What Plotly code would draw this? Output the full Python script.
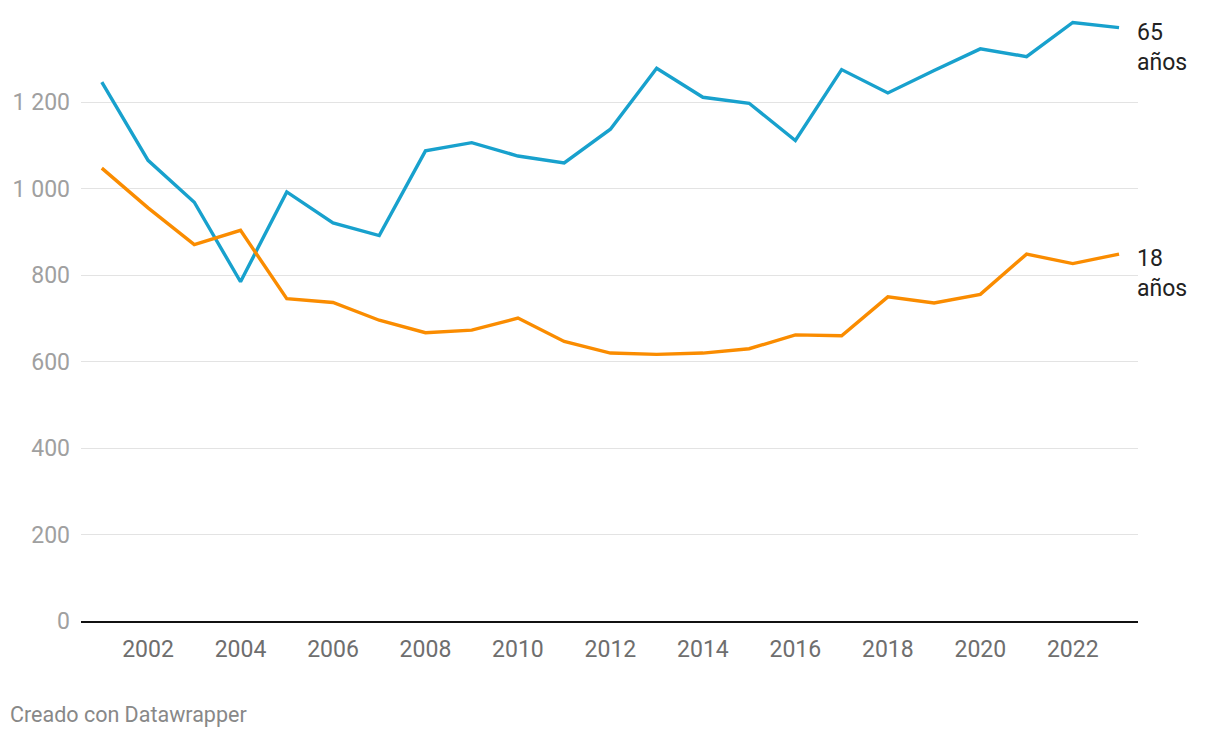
import plotly.graph_objects as go

years = list(range(2001, 2024))
age65 = [1247, 1066, 969, 785, 993, 921, 892, 1088, 1107, 1076, 1060, 1138, 1279,
         1212, 1198, 1112, 1276, 1222, 1274, 1324, 1306, 1385, 1373]
age18 = [1048, 956, 871, 904, 746, 737, 696, 667, 673, 701, 647, 620, 617,
         620, 630, 662, 660, 750, 736, 756, 849, 827, 849]
series_names = ["65<br>años", "18<br>años"]
colors = ["#18a1cd", "#fa8c00"]
ytick_vals = [0, 200, 400, 600, 800, 1000, 1200]
ytick_text = ["0", "200", "400", "600", "800", "1 000", "1 200"]
xtick_vals = list(range(2002, 2023, 2))

FONT = "Roboto, 'Noto Sans', sans-serif"

# page body has an 8px offset; plot area in figure coords: x 73..1130, y 8..613
L, R, T, B = 73, 90, 8, 125
PW, PH = 1220 - L - R, 738 - T - B

fig = go.Figure()
for vals, name, col in zip([age65, age18], series_names, colors):
    fig.add_trace(go.Scatter(x=years, y=vals, mode="lines", name=name,
                             line=dict(color=col, width=3.4), hoverinfo="skip"))
    fig.add_annotation(x=years[-1], y=vals[-1], xref="x", yref="y", text=name,
                       showarrow=False, xanchor="left", yanchor="top", align="left",
                       xshift=16, yshift=11,
                       font=dict(family=FONT, size=23, color="#222222"))

fig.add_annotation(x=(0 - L) / PW, y=(T + PH - 706) / PH, xref="paper", yref="paper",
                   text="Creado con Datawrapper",
                   showarrow=False, xanchor="left", yanchor="middle",
                   font=dict(family=FONT, size=21.5, color="#888888"))

fig.update_layout(
    width=1220, height=738,
    margin=dict(l=L, r=R, t=T, b=B, autoexpand=False),
    paper_bgcolor="white", plot_bgcolor="white",
    showlegend=False,
    xaxis=dict(range=[2000.55, 2023.41], tickvals=xtick_vals,
               ticktext=[str(v) for v in xtick_vals],
               showgrid=False, zeroline=False, automargin=False,
               showline=True, linecolor="#111111", linewidth=2,
               ticks="", ticklabelstandoff=6,
               tickfont=dict(family=FONT, size=23, color="#6e6e6e")),
    yaxis=dict(range=[0, 1400], tickvals=ytick_vals, ticktext=ytick_text,
               showgrid=True, gridcolor="#e3e3e3", gridwidth=1,
               zeroline=False, showline=False, ticks="", automargin=False,
               ticklabelstandoff=10,
               tickfont=dict(family=FONT, size=23, color="#a0a0a0")),
)

fig.write_html("out.html")
